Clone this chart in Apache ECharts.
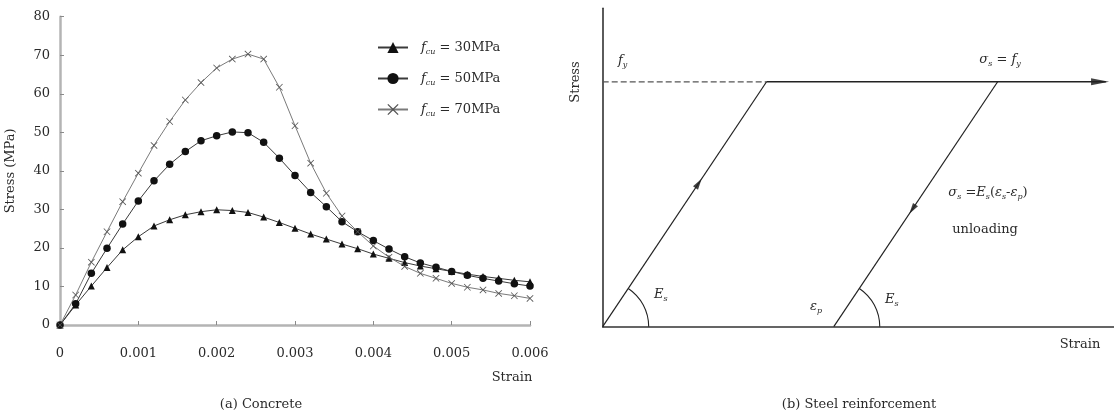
<!DOCTYPE html>
<html><head><meta charset="utf-8">
<script src="https://cdn.jsdelivr.net/npm/echarts@6/dist/echarts.min.js"></script>
<style>html,body{margin:0;padding:0;background:#fff}#c{width:1114px;height:416px}</style>
</head><body><div id="c"></div>
<script>
// ---- (a) Concrete: data ----
const strain = [0,0.0002,0.0004,0.0006,0.0008,0.0010,0.0012,0.0014,0.0016,0.0018,0.0020,
  0.0022,0.0024,0.0026,0.0028,0.0030,0.0032,0.0034,0.0036,0.0038,0.0040,
  0.0042,0.0044,0.0046,0.0048,0.0050,0.0052,0.0054,0.0056,0.0058,0.0060];
const stress30 = [0,5.2,10.1,14.9,19.5,22.9,25.7,27.3,28.6,29.4,29.9,29.7,29.2,28.0,26.6,25.1,23.6,22.3,21.0,19.8,18.4,17.3,16.2,15.3,14.6,13.9,13.2,12.6,12.1,11.6,11.2];
const stress50 = [0,5.5,13.4,19.9,26.2,32.2,37.4,41.7,45.0,47.8,49.1,50.1,49.9,47.4,43.3,38.8,34.4,30.7,26.8,24.2,21.9,19.7,17.7,16.1,15.0,13.9,12.9,12.1,11.4,10.7,10.1];
const stress70 = [0,7.8,16.3,24.2,32.0,39.4,46.6,52.8,58.4,62.9,66.7,69.0,70.3,69.0,61.7,51.7,42.0,34.2,28.3,24.2,20.5,17.6,15.2,13.4,12.1,10.8,9.8,9.1,8.2,7.6,6.9];
const seriesNames = ['30MPa','50MPa','70MPa'];
const xTickValues = [0,0.001,0.002,0.003,0.004,0.005,0.006];
const yTickValues = [0,10,20,30,40,50,60,70,80];

// ---- (b) Steel reinforcement: schematic, normalised (fy = 1, yield strain = 1) ----
const steelLoading = [[0,0],[1,1]];
const steelYieldDashed = [[0,1],[1,1]];
const steelPlastic = [[1,1],[3.07,1]];
const steelUnloading = [[1.41,0],[2.41,1]];
const steelArcOrigins = [[0,0],[1.41,0]];
const arrowLoading = [0.585,0.585];
const arrowUnloading = [1.89,0.48];
const arrowEnd = [3.035,1];

const FONT = 'DejaVu Serif';
const TXT = '#2a2a2a';
const xPath = 'path://M0,0.8L0.8,0L5,4.2L9.2,0L10,0.8L5.8,5L10,9.2L9.2,10L5,5.8L0.8,10L0,9.2L4.2,5Z';

function pairs(xs, ys){ return xs.map((x,i)=>[x, ys[i]]); }

const richBase = {
  n: {fontFamily: FONT, fontSize: 13, color: TXT, lineHeight: 16},
  i: {fontFamily: FONT, fontSize: 13, fontStyle: 'italic', color: TXT, lineHeight: 16},
  s: {fontFamily: FONT, fontSize: 8, fontStyle: 'italic', color: TXT, lineHeight: 16, verticalAlign: 'bottom', padding: [5,0,0,0]}
};

function txt(x, y, text, opt){
  opt = opt || {};
  return {
    type: 'text', x: x, y: y, rotation: opt.rot || 0, silent: true,
    style: {
      text: text, rich: richBase,
      font: '13px "' + FONT + '"', fill: TXT,
      align: opt.align || 'center', textAlign: opt.align || 'center',
      verticalAlign: 'middle', textVerticalAlign: 'middle'
    }
  };
}

const chart = echarts.init(document.getElementById('c'), null, {renderer: 'canvas'});

const option = {
  animation: false,
  backgroundColor: '#fff',
  textStyle: {fontFamily: FONT},
  grid: [
    {left: 60, top: 16.7, width: 470, height: 308.3},
    {left: 602.7, top: 8.3, right: 0, height: 318.4}
  ],
  xAxis: [
    {type: 'value', gridIndex: 0, min: 0, max: 0.006, interval: 0.001,
     axisLine: {show: true, lineStyle: {color: '#b4b4b4', width: 2.5}},
     axisTick: {show: true, inside: true, length: 4, lineStyle: {color: '#8a8a8a', width: 1}},
     axisLabel: {margin: 22, color: TXT, fontFamily: FONT, fontSize: 13,
       formatter: v => { const t = xTickValues.find(k => Math.abs(k - v) < 1e-9); return t === 0 ? '0' : (t !== undefined ? t.toFixed(3) : ''); }},
     splitLine: {show: false}},
    {type: 'value', gridIndex: 1, min: 0, max: 3.12,
     axisLine: {show: true, lineStyle: {color: '#333', width: 1.6}},
     axisTick: {show: false}, axisLabel: {show: false}, splitLine: {show: false}}
  ],
  yAxis: [
    {type: 'value', gridIndex: 0, min: 0, max: 80, interval: 10,
     name: 'Stress (MPa)', nameLocation: 'middle', nameGap: 43, nameRotate: 90,
     nameTextStyle: {color: TXT, fontFamily: FONT, fontSize: 13},
     axisLine: {show: true, lineStyle: {color: '#b4b4b4', width: 2.5}},
     axisTick: {show: true, inside: true, length: 4, lineStyle: {color: '#8a8a8a', width: 1}},
     axisLabel: {margin: 10, color: TXT, fontFamily: FONT, fontSize: 13,
       formatter: v => yTickValues.indexOf(v) >= 0 ? String(v) : ''},
     splitLine: {show: false}},
    {type: 'value', gridIndex: 1, min: 0, max: 1.3,
     axisLine: {show: true, lineStyle: {color: '#333', width: 1.6}},
     axisTick: {show: false}, axisLabel: {show: false}, splitLine: {show: false}}
  ],
  legend: {
    data: seriesNames, orient: 'vertical', left: 377, top: 41, padding: 0,
    itemWidth: 30, itemHeight: 14, itemGap: 16.5,
    textStyle: {fontFamily: FONT, fontSize: 13, color: TXT, padding: [0,0,0,8], rich: richBase},
    formatter: name => '{i|f}{s|cu}{n| = ' + name + '}'
  },
  series: [
    {name: seriesNames[0], type: 'line', xAxisIndex: 0, yAxisIndex: 0, data: pairs(strain, stress30),
     symbol: 'triangle', symbolSize: 7, lineStyle: {color: '#3a3a3a', width: 1}, itemStyle: {color: '#111'}},
    {name: seriesNames[1], type: 'line', xAxisIndex: 0, yAxisIndex: 0, data: pairs(strain, stress50),
     symbol: 'circle', symbolSize: 7.5, lineStyle: {color: '#3a3a3a', width: 1}, itemStyle: {color: '#111'}},
    {name: seriesNames[2], type: 'line', xAxisIndex: 0, yAxisIndex: 0, data: pairs(strain, stress70),
     symbol: xPath, symbolSize: 7, lineStyle: {color: '#7a7a7a', width: 1}, itemStyle: {color: '#555'}},

    {type: 'line', xAxisIndex: 1, yAxisIndex: 1, data: steelYieldDashed, symbol: 'none',
     lineStyle: {color: '#555', width: 1.3, type: [6,3]}},
    {type: 'line', xAxisIndex: 1, yAxisIndex: 1, data: steelPlastic, symbol: 'none',
     lineStyle: {color: '#222', width: 1.4}},
    {type: 'line', xAxisIndex: 1, yAxisIndex: 1, data: steelLoading, symbol: 'none',
     lineStyle: {color: '#222', width: 1.2}},
    {type: 'line', xAxisIndex: 1, yAxisIndex: 1, data: steelUnloading, symbol: 'none',
     lineStyle: {color: '#222', width: 1.2}},
    {type: 'scatter', xAxisIndex: 1, yAxisIndex: 1, symbol: 'triangle', itemStyle: {color: '#111'},
     data: [
       {value: arrowLoading, symbolRotate: -33.8, symbolSize: [6, 11]},
       {value: arrowUnloading, symbolRotate: 146.2, symbolSize: [6, 11]},
       {value: arrowEnd, symbolRotate: -90, symbolSize: [7, 18]}
     ]},
    {type: 'custom', xAxisIndex: 1, yAxisIndex: 1, data: steelArcOrigins, silent: true,
     renderItem: function(params, api){
       const x0 = api.value(0), y0 = api.value(1);
       const c = api.coord([x0, y0]);
       const p = api.coord([x0 + 1, y0 + 1]);
       const ang = Math.atan2(p[1] - c[1], p[0] - c[0]);
       return {type: 'arc', shape: {cx: c[0], cy: c[1], r: 46, startAngle: ang, endAngle: 0, clockwise: true},
               style: {stroke: '#222', fill: null, lineWidth: 1.1}};
     }}
  ],
  graphic: [
    txt(512, 378, 'Strain'),
    txt(261, 405, '(a) Concrete'),
    txt(576, 82, 'Stress', {rot: Math.PI/2}),
    txt(618, 61, '{i|f}{s|y}', {align: 'left'}),
    txt(1000, 60, '{i|σ}{s|s}{n| = }{i|f}{s|y}'),
    txt(988, 193, '{i|σ}{s|s}{n| =}{i|E}{s|s}{n|(}{i|ε}{s|s}{n|-}{i|ε}{s|p}{n|)}'),
    txt(985, 230, 'unloading'),
    txt(654, 295, '{i|E}{s|s}', {align: 'left'}),
    txt(810, 307, '{i|ε}{s|p}', {align: 'left'}),
    txt(885, 300, '{i|E}{s|s}', {align: 'left'}),
    txt(1080, 345, 'Strain'),
    txt(859, 405, '(b) Steel reinforcement')
  ]
};
chart.setOption(option);
</script>
</body></html>
